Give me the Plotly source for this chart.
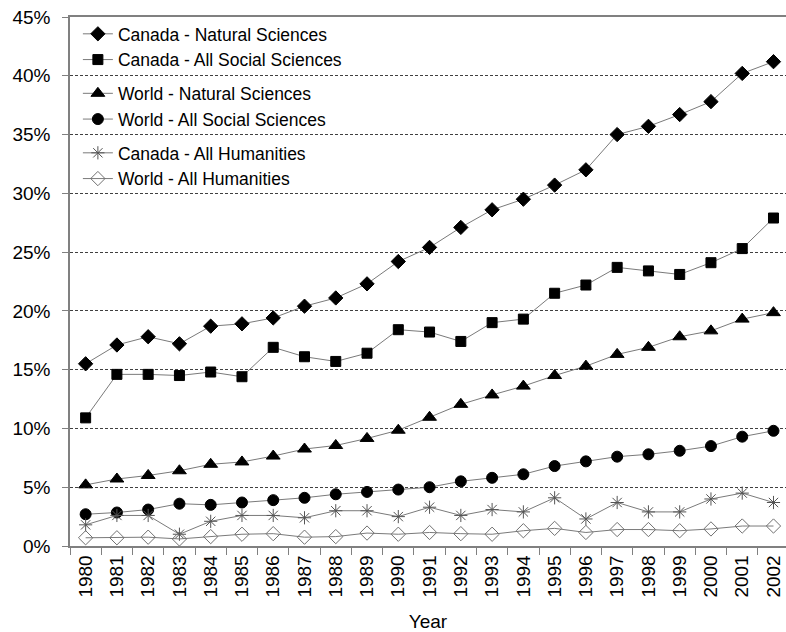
import plotly.graph_objects as go

years = [str(y) for y in range(1980, 2003)]
canada_nat = [15.5, 17.1, 17.8, 17.2, 18.7, 18.9, 19.4, 20.4, 21.1, 22.3, 24.2, 25.4, 27.1,
              28.6, 29.5, 30.7, 32.0, 35.0, 35.7, 36.7, 37.8, 40.2, 41.2]
canada_soc = [10.9, 14.6, 14.6, 14.5, 14.8, 14.4, 16.9, 16.1, 15.7, 16.4, 18.4, 18.2, 17.4,
              19.0, 19.3, 21.5, 22.2, 23.7, 23.4, 23.1, 24.1, 25.3, 27.9]
world_nat = [5.2, 5.7, 6.0, 6.4, 6.95, 7.15, 7.65, 8.25, 8.55, 9.15, 9.85, 10.95, 12.05,
             12.85, 13.6, 14.5, 15.3, 16.3, 16.9, 17.8, 18.3, 19.3, 19.85]
world_soc = [2.7, 2.85, 3.1, 3.6, 3.5, 3.7, 3.9, 4.1, 4.4, 4.6, 4.8, 5.0, 5.5,
             5.8, 6.1, 6.8, 7.2, 7.6, 7.8, 8.1, 8.5, 9.3, 9.8]
canada_hum = [1.8, 2.6, 2.6, 1.0, 2.1, 2.6, 2.6, 2.4, 3.0, 3.0, 2.5, 3.3, 2.6,
              3.1, 2.9, 4.1, 2.3, 3.7, 2.9, 2.9, 4.0, 4.5, 3.7]
world_hum = [0.7, 0.7, 0.75, 0.6, 0.8, 1.0, 1.05, 0.75, 0.8, 1.1, 1.0, 1.15, 1.05,
             1.0, 1.3, 1.5, 1.15, 1.4, 1.4, 1.3, 1.45, 1.7, 1.7]

series = [
    ("Canada - Natural Sciences", canada_nat, "diamond", 11, "black", "g1"),
    ("Canada - All Social Sciences", canada_soc, "square", 10, "black", "g1"),
    ("World - Natural Sciences", world_nat, "triangle-up", 12, "black", "g2"),
    ("World - All Social Sciences", world_soc, "circle", 11, "black", "g2"),
    ("Canada - All Humanities", canada_hum, "asterisk-open", 11, "#555555", "g3"),
    ("World - All Humanities", world_hum, "diamond-open", 11, "#707070", "g3"),
]

fig = go.Figure()
for name, vals, sym, size, col, grp in series:
    fig.add_trace(go.Scatter(
        x=years, y=[v / 100 for v in vals], name=name, mode="lines+markers",
        legendgroup=grp,
        line=dict(color="#7a7a7a", width=1),
        marker=dict(symbol=sym, size=size, color=col,
                    line=dict(color=col, width=1)),
    ))

fig.update_layout(
    width=786, height=632,
    margin=dict(l=70, r=0, t=17, b=86, autoexpand=False),
    paper_bgcolor="white", plot_bgcolor="white",
    font=dict(family="Liberation Sans, Arial, sans-serif", size=19, color="black"),
    showlegend=True,
    legend=dict(x=0.011, y=1.002, xanchor="left", yanchor="top",
                bgcolor="rgba(0,0,0,0)", borderwidth=0,
                font=dict(size=17.5), tracegroupgap=8, itemwidth=30,
                traceorder="grouped"),
)
fig.update_xaxes(
    type="category", range=[-0.5, 22.4], tickangle=-90, automargin=False,
    tickson="boundaries", ticks="outside", ticklen=7, tickcolor="#808080",
    showline=True, linecolor="#808080", linewidth=1.5, mirror=True,
    showgrid=False,
    title=dict(text="Year", font=dict(size=19), standoff=18),
    tickfont=dict(size=19),
)
fig.update_yaxes(
    range=[0, 0.45], dtick=0.05, tickformat=".0%", automargin=False,
    ticks="outside", ticklen=6, tickcolor="#808080", ticklabeloverflow="allow",
    ticklabelstandoff=8,
    showline=True, linecolor="#808080", linewidth=1.5,
    showgrid=True, gridcolor="#404040", gridwidth=1, griddash="3px,2px",
    zeroline=False, tickfont=dict(size=19),
)

fig.write_html(
    "out.html",
    config={"displayModeBar": False},
    post_script="document.body.style.margin='0';document.body.style.overflow='hidden';",
)
